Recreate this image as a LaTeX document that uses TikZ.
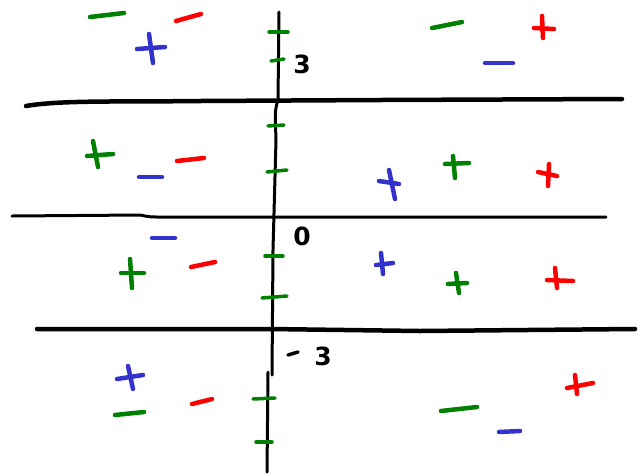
\documentclass[tikz,border=0pt]{standalone}
\usepackage{fontspec}
\setmainfont{DejaVu Sans}
\definecolor{gr}{RGB}{0,128,0}
\definecolor{rd}{RGB}{255,0,0}
\definecolor{bl}{RGB}{50,50,205}
\begin{document}
\begin{tikzpicture}[x=1pt,y=-1pt,line cap=round,line join=round,
  sgn/.style={line width=4.5pt},
  tick/.style={gr,line width=3.5pt},
  axis/.style={black,line width=3pt},
  bar/.style={black,line width=4.5pt},
  thinbar/.style={black,line width=3pt},
  lbl/.style={font=\bfseries\fontsize{25}{25}\selectfont,inner sep=0pt}]
\useasboundingbox (0,0) rectangle (643,475);
% horizontal lines
\draw[bar] (26,106) .. controls (60,100) and (120,102) .. (200,101) -- (380,100) -- (622,99);
\draw[thinbar] (12,216) -- (140,215) .. controls (150,217) .. (160,217) -- (606,217);
\draw[bar] (37,329) -- (270,329) -- (420,331) -- (635,329);
% vertical axis
\draw[axis] (279,12) -- (278,100) .. controls (275,110) .. (276,140) -- (273,250) -- (272,375);
\draw[axis] (268,372) -- (267,472);
% axis ticks
\draw[tick] (269,32) -- (288,32);
\draw[tick] (271,61) -- (284,59);
\draw[tick] (268,126) -- (284,125);
\draw[tick] (267,172) -- (287,170);
\draw[tick] (265,256) -- (283,256);
\draw[tick] (262,298) -- (287,296);
\draw[tick] (253,399) -- (275,398);
\draw[tick] (256,442) -- (272,442);
% labels
\node[lbl] (l3) at (302,64) {3};
\node[lbl] (l0) at (302,236) {0};
\draw[black,line width=3.5pt] (288,355) -- (298,352);
\node[lbl] (lm3) at (323,356) {3};
% top band
\draw[sgn,gr] (90,17) -- (124,13);
\draw[sgn,rd] (176,21) -- (201,14);
\draw[sgn,bl] (137,49) -- (165,47); \draw[sgn,bl] (149,34) -- (153,63);
\draw[sgn,gr] (432,28) -- (462,22);
\draw[sgn,rd] (534,28) -- (554,29); \draw[sgn,rd] (542,16) -- (543,38);
\draw[sgn,bl] (485,63) -- (513,63);
% second band
\draw[sgn,gr] (87,156) -- (113,154); \draw[sgn,gr] (93,141) -- (98,167);
\draw[sgn,bl] (139,177) -- (162,177);
\draw[sgn,rd] (177,161) -- (204,158);
\draw[sgn,bl] (379,181) -- (399,184); \draw[sgn,bl] (389,170) -- (395,199);
\draw[sgn,gr] (445,164) -- (469,163); \draw[sgn,gr] (453,156) -- (455,178);
\draw[sgn,rd] (538,172) -- (557,176); \draw[sgn,rd] (549,164) -- (548,186);
% third band
\draw[sgn,bl] (152,238) -- (175,238);
\draw[sgn,gr] (121,273) -- (144,273); \draw[sgn,gr] (130,259) -- (132,288);
\draw[sgn,rd] (191,267) -- (215,262);
\draw[sgn,bl] (376,265) -- (393,263); \draw[sgn,bl] (381,253) -- (383,274);
\draw[sgn,gr] (448,284) -- (467,283); \draw[sgn,gr] (456,273) -- (459,293);
\draw[sgn,rd] (547,280) -- (573,281); \draw[sgn,rd] (555,268) -- (557,288);
% bottom band
\draw[sgn,bl] (117,379) -- (143,375); \draw[sgn,bl] (128,366) -- (133,389);
\draw[sgn,gr] (115,415) -- (144,412);
\draw[sgn,rd] (192,404) -- (212,399);
\draw[sgn,rd] (567,388) -- (593,383); \draw[sgn,rd] (575,375) -- (577,394);
\draw[sgn,gr] (441,411) -- (477,407);
\draw[sgn,bl] (499,432) -- (520,431);
\end{tikzpicture}
\end{document}
